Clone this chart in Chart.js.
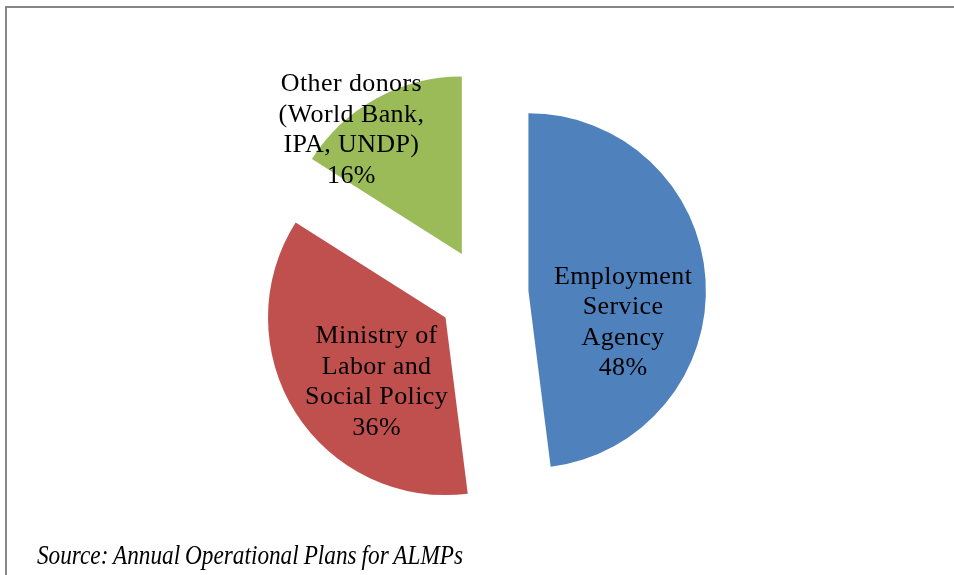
<!DOCTYPE html>
<html>
<head>
<meta charset="utf-8">
<script src="https://cdn.jsdelivr.net/npm/chart.js@4/dist/chart.umd.min.js"></script>
<style>
  html, body { margin: 0; padding: 0; background: #fff; }
  #wrap { position: relative; width: 954px; height: 575px; overflow: hidden; }
  #source {
    position: absolute; left: 37px; top: 541px;
    font: italic 28px/28px "Liberation Serif", "Times New Roman", serif;
    word-spacing: -1px;
    color: #000; white-space: nowrap;
    transform: scaleX(0.83); transform-origin: left top;
  }
</style>
</head>
<body>
<div id="wrap">
  <canvas id="myChart" width="954" height="575"></canvas>
  <div id="source">Source: Annual Operational Plans for ALMPs</div>
</div>
<script>
// Parts du financement des mesures actives
const labels = [
  ['Employment', 'Service', 'Agency'],
  ['Ministry of', 'Labor and', 'Social Policy'],
  ['Other donors', '(World Bank,', 'IPA, UNDP)']
]
const shares = [48, 36, 16]
const colors = ['#4F81BD', '#C0504D', '#9BBB59']

const R = 177.5       // rayon
const explode = 45    // écartement de chaque part (px)

// position des étiquettes : décalage d'angle (degrés) et fraction du rayon
const labelPlace = [[21.3, 0.56], [-9.8, 0.524], [-12.4, 0.944]]

// camembert éclaté : chaque part est déplacée le long de sa bissectrice
// (l'option offset de Chart.js rogne aussi les angles, on ne l'utilise pas)
const explodeSlices = {
  id: 'explodeSlices',
  beforeDatasetsDraw(chart) {
    const a = chart.chartArea
    const cx = (a.left + a.right) / 2
    const cy = (a.top + a.bottom) / 2
    chart.getDatasetMeta(0).data.forEach(arc => {
      const mid = (arc.startAngle + arc.endAngle) / 2
      arc.x = cx + Math.cos(mid) * explode
      arc.y = cy + Math.sin(mid) * explode
    })
  }
}

// cadre gris en haut et à gauche
const frame = {
  id: 'frame',
  beforeDraw(chart) {
    const c = chart.ctx
    c.save()
    c.strokeStyle = '#868686'
    c.lineWidth = 2
    c.beginPath()
    c.moveTo(6, 575)
    c.lineTo(6, 7)
    c.lineTo(954, 7)
    c.stroke()
    c.restore()
  }
}

// étiquettes dans les parts
const sliceLabels = {
  id: 'sliceLabels',
  afterDatasetsDraw(chart) {
    const c = chart.ctx
    const meta = chart.getDatasetMeta(0)
    c.save()
    c.font = '26px "Liberation Serif", "Times New Roman", serif'
    c.letterSpacing = '0.4px'
    c.fillStyle = '#000'
    c.textAlign = 'center'
    c.textBaseline = 'middle'
    meta.data.forEach((arc, i) => {
      const mid = (arc.startAngle + arc.endAngle) / 2
      const a = mid + labelPlace[i][0] * Math.PI / 180
      const r = R * labelPlace[i][1]
      const cx = arc.x + Math.cos(a) * r
      const cy = arc.y + Math.sin(a) * r + 2
      const lines = labels[i].concat([shares[i] + '%'])
      const lh = 30.5
      lines.forEach((t, k) => {
        c.fillText(t, cx, cy + (k - (lines.length - 1) / 2) * lh)
      })
    })
    c.restore()
  }
}

let ctx = document.querySelector('#myChart')
new Chart(ctx, {
  type: 'pie',
  data: {
    labels: labels.map(l => l.join(' ')),
    datasets: [
      {
        data: shares,
        backgroundColor: colors,
        borderWidth: 0,
        radius: R
      }
    ]
  },
  options: {
    responsive: false,
    animation: false,
    layout: { padding: { left: 13, right: 0, top: 12, bottom: 0 } },
    plugins: {
      legend: { display: false },
      tooltip: { enabled: false }
    }
  },
  plugins: [frame, explodeSlices, sliceLabels]
})
</script>
</body>
</html>
